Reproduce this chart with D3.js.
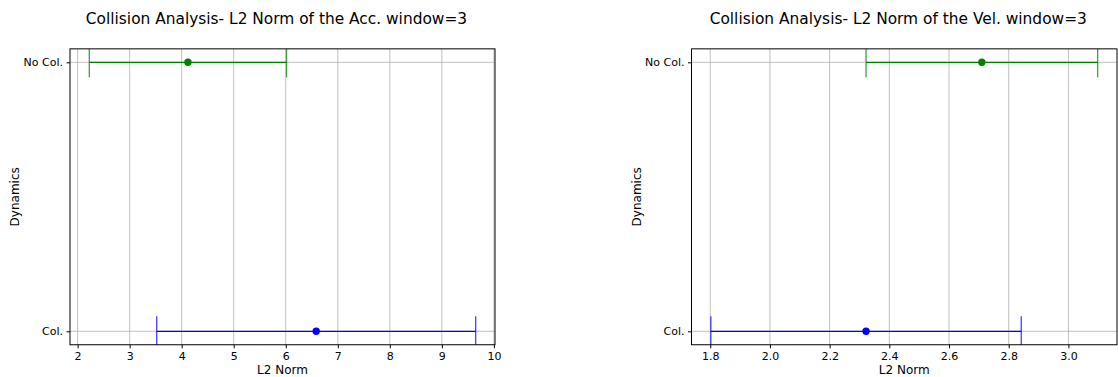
<!DOCTYPE html>
<html>
<head>
<meta charset="utf-8">
<script src="https://cdn.jsdelivr.net/npm/d3@7"></script>
<style>
  html, body { margin: 0; padding: 0; background: #fff; }
  svg { display: block; font-family: "DejaVu Sans", sans-serif; }
</style>
</head>
<body>
<div id="chart"></div>
<script>
// categories on the y axis (bottom to top)
const categories = ['Col.', 'No Col.'];
const seriesColors = ['#0000ff', '#008000'];

// L2 norm of the acceleration: mean and symmetric error per category
const accMean = [6.585, 4.12];
const accErr = [3.065, 1.895];
const accTicks = [2, 3, 4, 5, 6, 7, 8, 9, 10];

// L2 norm of the velocity
const velMean = [2.322, 2.71];
const velErr = [0.52, 0.388];
const velTicks = [1.8, 2.0, 2.2, 2.4, 2.6, 2.8, 3.0];

const titles = [
  'Collision Analysis- L2 Norm of the Acc. window=3',
  'Collision Analysis- L2 Norm of the Vel. window=3'
];

const W = 1118, H = 377;
const axTop = 48.85, axBottom = 344.75;

const panels = [
  { left: 70, right: 495, mean: accMean, err: accErr, ticks: accTicks, fmt: d3.format('d'), title: titles[0] },
  { left: 691.5, right: 1117, mean: velMean, err: velErr, ticks: velTicks, fmt: d3.format('.1f'), title: titles[1] }
];

const svg = d3.select('#chart').append('svg')
  .attr('width', W)
  .attr('height', H);

panels.forEach((p, pi) => {
  const lo = d3.min(p.mean, (m, i) => m - p.err[i]);
  const hi = d3.max(p.mean, (m, i) => m + p.err[i]);
  const pad = (hi - lo) * 0.05;

  const x = d3.scaleLinear().domain([lo - pad, hi + pad]).range([p.left, p.right]);
  const y = d3.scalePoint().domain(categories).range([axBottom, axTop]).padding(0.05);

  const g = svg.append('g');
  const clipId = `clip-${pi}`;
  svg.append('clipPath').attr('id', clipId)
    .append('rect')
    .attr('x', p.left).attr('y', axTop)
    .attr('width', p.right - p.left).attr('height', axBottom - axTop);

  // grid
  g.selectAll('.vgrid').data(p.ticks)
    .join('line')
    .attr('x1', d => x(d)).attr('x2', d => x(d))
    .attr('y1', axTop).attr('y2', axBottom)
    .attr('stroke', '#b0b0b0').attr('stroke-width', 0.8);

  g.selectAll('.hgrid').data(categories)
    .join('line')
    .attr('x1', p.left).attr('x2', p.right)
    .attr('y1', d => y(d)).attr('y2', d => y(d))
    .attr('stroke', '#b0b0b0').attr('stroke-width', 0.8);

  // error bars
  const bars = g.append('g').attr('clip-path', `url(#${clipId})`)
    .selectAll('g').data(categories)
    .join('g');

  bars.append('line')
    .attr('x1', (d, i) => x(p.mean[i] - p.err[i]))
    .attr('x2', (d, i) => x(p.mean[i] + p.err[i]))
    .attr('y1', d => y(d)).attr('y2', d => y(d))
    .attr('stroke', (d, i) => seriesColors[i])
    .attr('stroke-width', 1.2);

  [-1, 1].forEach(s => {
    bars.append('line')
      .attr('x1', (d, i) => x(p.mean[i] + s * p.err[i]))
      .attr('x2', (d, i) => x(p.mean[i] + s * p.err[i]))
      .attr('y1', d => y(d) - 15).attr('y2', d => y(d) + 15)
      .attr('stroke', (d, i) => seriesColors[i])
      .attr('stroke-opacity', 0.75)
      .attr('stroke-width', 1.3);
  });

  bars.append('circle')
    .attr('cx', (d, i) => x(p.mean[i]))
    .attr('cy', d => y(d))
    .attr('r', 3.7)
    .attr('fill', (d, i) => seriesColors[i]);

  // spines
  g.append('rect')
    .attr('x', p.left).attr('y', axTop)
    .attr('width', p.right - p.left).attr('height', axBottom - axTop)
    .attr('fill', 'none')
    .attr('stroke', '#000').attr('stroke-width', 1);

  // x axis
  const xAxis = g.append('g')
    .attr('transform', `translate(0,${axBottom})`)
    .call(d3.axisBottom(x).tickValues(p.ticks).tickFormat(p.fmt).tickSize(3.5).tickPadding(3.5));
  xAxis.select('.domain').remove();
  xAxis.selectAll('text').attr('font-size', 11).attr('fill', '#000')
    .attr('font-family', '"DejaVu Sans", sans-serif');

  // y axis
  const yAxis = g.append('g')
    .attr('transform', `translate(${p.left},0)`)
    .call(d3.axisLeft(y).tickSize(3.5).tickPadding(3.5));
  yAxis.select('.domain').remove();
  yAxis.selectAll('text').attr('font-size', 11).attr('fill', '#000')
    .attr('font-family', '"DejaVu Sans", sans-serif');

  // labels
  g.append('text')
    .attr('x', (p.left + p.right) / 2)
    .attr('y', 374)
    .attr('text-anchor', 'middle')
    .attr('font-size', 12)
    .text('L2 Norm');

  g.append('text')
    .attr('transform', `translate(${p.left - 51},${(axTop + axBottom) / 2}) rotate(-90)`)
    .attr('text-anchor', 'middle')
    .attr('font-size', 12)
    .text('Dynamics');

  g.append('text')
    .attr('x', (p.left + p.right) / 2 - 6)
    .attr('y', 24)
    .attr('text-anchor', 'middle')
    .attr('font-size', 15.4)
    .text(p.title);
});
</script>
</body>
</html>
